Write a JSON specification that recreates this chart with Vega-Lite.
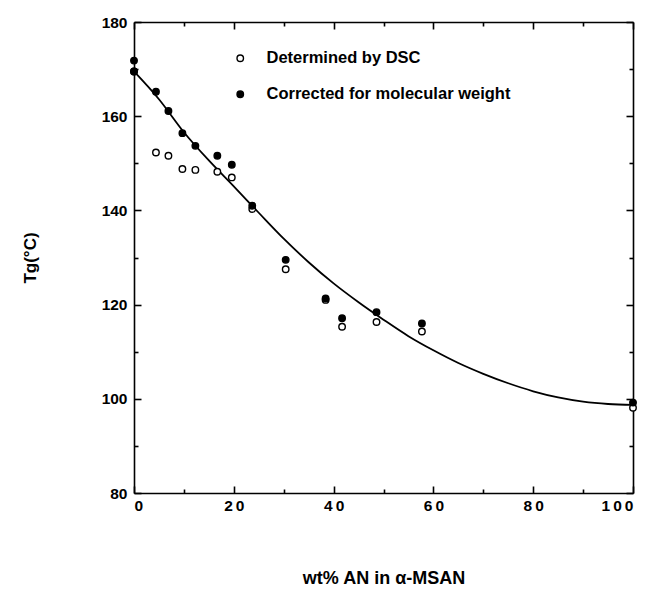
{
  "$schema": "https://vega.github.io/schema/vega-lite/v6.json",
  "autosize": "none",
  "width": 499,
  "height": 471,
  "padding": {"left": 134, "top": 22, "right": 21, "bottom": 96},
  "background": "white",
  "config": {
    "view": {"stroke": null},
    "font": "Liberation Sans",
    "axis": {
      "domainColor": "black",
      "domainWidth": 1.6,
      "tickColor": "black",
      "tickWidth": 1.6,
      "grid": false,
      "labelFont": "Liberation Sans",
      "labelFontWeight": "bold",
      "labelFontSize": 15.5,
      "labelColor": "black",
      "titleFont": "Liberation Sans",
      "titleFontWeight": "bold",
      "titleFontSize": 17,
      "titleColor": "black"
    }
  },
  "resolve": {"axis": {"x": "independent", "y": "independent"}},
  "layer": [
    {
      "data": {"values": [
        {"wt": 0, "tg": 169.5}, {"wt": 5, "tg": 163.6}, {"wt": 10, "tg": 156.6},
        {"wt": 15, "tg": 150.6}, {"wt": 20, "tg": 145.1}, {"wt": 25, "tg": 139.5},
        {"wt": 30, "tg": 134.0}, {"wt": 35, "tg": 129.0}, {"wt": 40, "tg": 124.5},
        {"wt": 45, "tg": 120.5}, {"wt": 50, "tg": 116.8}, {"wt": 55, "tg": 113.3},
        {"wt": 60, "tg": 110.3}, {"wt": 65, "tg": 107.6}, {"wt": 70, "tg": 105.3},
        {"wt": 75, "tg": 103.3}, {"wt": 80, "tg": 101.6}, {"wt": 85, "tg": 100.3},
        {"wt": 90, "tg": 99.4}, {"wt": 95, "tg": 98.9}, {"wt": 100, "tg": 98.7}
      ]},
      "mark": {"type": "line", "color": "black", "strokeWidth": 1.8, "interpolate": "monotone"},
      "encoding": {
        "x": {
          "field": "wt", "type": "quantitative",
          "scale": {"domain": [0, 100], "nice": false, "zero": false},
          "axis": {
            "orient": "bottom",
            "title": "wt% AN in α-MSAN",
            "titleFontSize": 18,
            "values": [0, 10, 20, 30, 40, 50, 60, 70, 80, 90, 100],
            "tickSize": {"condition": {"test": "datum.value % 20 !== 0", "value": -4}, "value": -7},
            "labelExpr": "datum.value % 20 === 0 ? join(split(datum.label, ''), '\u2009') : ''",
            "labelPadding": 12,
            "titlePadding": 56
          }
        },
        "y": {
          "field": "tg", "type": "quantitative",
          "scale": {"domain": [80, 180], "nice": false, "zero": false},
          "axis": {
            "orient": "left",
            "title": "Tg(°C)",
            "values": [80, 90, 100, 110, 120, 130, 140, 150, 160, 170, 180],
            "tickSize": {"condition": {"test": "datum.value % 20 !== 0", "value": -4}, "value": -7},
            "labelExpr": "datum.value % 20 === 0 ? datum.label : ''",
            "labelPadding": 14,
            "titlePadding": 62
          }
        }
      }
    },
    {
      "data": {"values": [
        {"series": "Determined by DSC", "wt": 0, "tg": 169.5},
        {"series": "Determined by DSC", "wt": 4.4, "tg": 152.3},
        {"series": "Determined by DSC", "wt": 6.9, "tg": 151.6},
        {"series": "Determined by DSC", "wt": 9.7, "tg": 148.8},
        {"series": "Determined by DSC", "wt": 12.3, "tg": 148.6},
        {"series": "Determined by DSC", "wt": 16.7, "tg": 148.2},
        {"series": "Determined by DSC", "wt": 19.6, "tg": 147.0},
        {"series": "Determined by DSC", "wt": 23.7, "tg": 140.3},
        {"series": "Determined by DSC", "wt": 30.4, "tg": 127.5},
        {"series": "Determined by DSC", "wt": 38.4, "tg": 121.0},
        {"series": "Determined by DSC", "wt": 41.7, "tg": 115.3},
        {"series": "Determined by DSC", "wt": 48.6, "tg": 116.3},
        {"series": "Determined by DSC", "wt": 57.7, "tg": 114.3},
        {"series": "Determined by DSC", "wt": 100, "tg": 98.1},
        {"series": "Corrected for molecular weight", "wt": 0, "tg": 171.8},
        {"series": "Corrected for molecular weight", "wt": 0, "tg": 169.5},
        {"series": "Corrected for molecular weight", "wt": 4.4, "tg": 165.2},
        {"series": "Corrected for molecular weight", "wt": 6.9, "tg": 161.1},
        {"series": "Corrected for molecular weight", "wt": 9.7, "tg": 156.4},
        {"series": "Corrected for molecular weight", "wt": 12.3, "tg": 153.7},
        {"series": "Corrected for molecular weight", "wt": 16.7, "tg": 151.6},
        {"series": "Corrected for molecular weight", "wt": 19.6, "tg": 149.7},
        {"series": "Corrected for molecular weight", "wt": 23.7, "tg": 141.0},
        {"series": "Corrected for molecular weight", "wt": 30.4, "tg": 129.5},
        {"series": "Corrected for molecular weight", "wt": 38.4, "tg": 121.3},
        {"series": "Corrected for molecular weight", "wt": 41.7, "tg": 117.1},
        {"series": "Corrected for molecular weight", "wt": 48.6, "tg": 118.4},
        {"series": "Corrected for molecular weight", "wt": 57.7, "tg": 116.0},
        {"series": "Corrected for molecular weight", "wt": 100, "tg": 99.2}
      ]},
      "mark": {"type": "point", "filled": true, "stroke": "black", "strokeWidth": 1.4, "size": 42, "opacity": 1},
      "encoding": {
        "x": {
          "field": "wt", "type": "quantitative",
          "axis": {
            "orient": "top", "title": null, "labels": false,
            "values": [0, 10, 20, 30, 40, 50, 60, 70, 80, 90, 100],
            "tickSize": {"condition": {"test": "datum.value % 20 !== 0", "value": -4}, "value": -7}
          }
        },
        "y": {
          "field": "tg", "type": "quantitative",
          "axis": {
            "orient": "right", "title": null, "labels": false,
            "values": [80, 90, 100, 110, 120, 130, 140, 150, 160, 170, 180],
            "tickSize": {"condition": {"test": "datum.value % 20 !== 0", "value": -4}, "value": -7}
          }
        },
        "fill": {
          "field": "series", "type": "nominal",
          "scale": {"domain": ["Determined by DSC", "Corrected for molecular weight"], "range": ["white", "black"]},
          "legend": {
            "orient": "none",
            "legendX": 98,
            "legendY": 28,
            "title": null,
            "padding": 0,
            "symbolType": "circle",
            "symbolSize": 42,
            "symbolStrokeColor": "black",
            "symbolStrokeWidth": 1.4,
            "labelFont": "Liberation Sans",
            "labelFontWeight": "bold",
            "labelFontSize": 16.5,
            "labelColor": "black",
            "labelOffset": 18,
            "rowPadding": 19,
            "labelLimit": 400
          }
        },
        "order": {"field": "series", "sort": "descending"}
      }
    }
  ]
}
